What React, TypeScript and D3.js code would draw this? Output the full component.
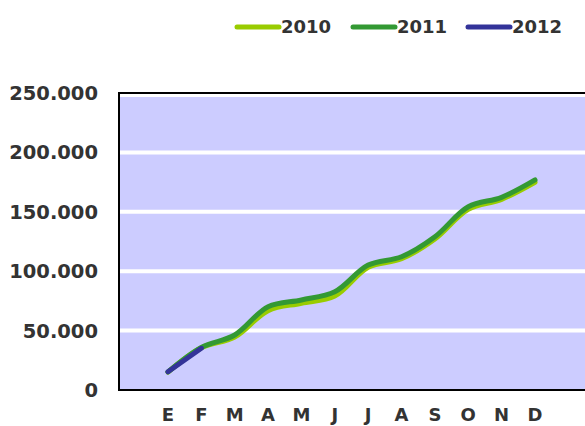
import React, { useEffect, useRef } from 'react';
import * as d3 from 'd3';

const months = ['E', 'F', 'M', 'A', 'M', 'J', 'J', 'A', 'S', 'O', 'N', 'D'];
const sales2010 = [15000, 35500, 44500, 66800, 73000, 79100, 103300, 110500, 127100, 152100, 160500, 174800];
const sales2011 = [15200, 35800, 46300, 70100, 75800, 82700, 105200, 112200, 129000, 154300, 162200, 176800];
const sales2012 = [15400, 35100];
const yTicks = [0, 50000, 100000, 150000, 200000, 250000];
const seriesNames = ['2010', '2011', '2012'];

const colors = ['#99cc00', '#339933', '#333399'];
const font = '"DejaVu Sans", sans-serif';

export default function App() {
    const ref = useRef<SVGSVGElement>(null);

    useEffect(() => {
        const svg = d3.select(ref.current);
        svg.selectAll('*').remove();

        const width = 585;
        const left = 119, top = 93, bottom = 390;

        const x = d3.scalePoint<number>().domain(d3.range(months.length)).range([168, 535]);
        const y = d3.scaleLinear().domain([0, 250000]).range([bottom, top]);

        const fmt = d3.formatLocale({ decimal: ',', thousands: '.', grouping: [3], currency: ['', ''] }).format(',d');

        // plot background
        svg.append('rect')
            .attr('x', left).attr('y', top)
            .attr('width', width - left + 5).attr('height', bottom - top)
            .attr('fill', '#ccccff');

        // gridlines
        svg.append('g').selectAll('line')
            .data(yTicks.filter(d => d > 0))
            .enter().append('line')
            .attr('x1', left).attr('x2', width)
            .attr('y1', d => y(d) + (d === 250000 ? 2 : 0))
            .attr('y2', d => y(d) + (d === 250000 ? 2 : 0))
            .attr('stroke', '#ffffff').attr('stroke-width', 4);

        // borders
        svg.append('path')
            .attr('d', `M${width},${top}H${left}V${bottom}H${width}`)
            .attr('fill', 'none').attr('stroke', '#000').attr('stroke-width', 2);

        // y labels
        svg.append('g').selectAll('text')
            .data(yTicks)
            .enter().append('text')
            .attr('x', 98).attr('y', d => y(d))
            .attr('dy', '0.36em')
            .attr('text-anchor', 'end')
            .attr('font-family', font).attr('font-weight', 'bold').attr('font-size', 19.5)
            .attr('fill', '#333333')
            .text(d => fmt(d));

        // x labels
        svg.append('g').selectAll('text')
            .data(months)
            .enter().append('text')
            .attr('x', (d, i) => x(i)!).attr('y', 415)
            .attr('dy', '0.36em')
            .attr('text-anchor', 'middle')
            .attr('font-family', font).attr('font-weight', 'bold').attr('font-size', 18)
            .attr('fill', '#333333')
            .text(d => d);

        const line = d3.line<number>()
            .x((d, i) => x(i)!)
            .y(d => y(d))
            .curve(d3.curveCatmullRom);

        [sales2010, sales2011, sales2012].forEach((s, i) => {
            svg.append('path')
                .attr('d', line(s))
                .attr('fill', 'none')
                .attr('stroke', colors[i])
                .attr('stroke-width', 5)
                .attr('stroke-linecap', 'round')
                .attr('stroke-linejoin', 'round');
        });

        // legend
        const legendX = [237, 353, 468];
        const lg = svg.append('g').selectAll('g')
            .data(seriesNames)
            .enter().append('g')
            .attr('transform', (d, i) => `translate(${legendX[i]},27)`);
        lg.append('line')
            .attr('x1', 0).attr('x2', 42)
            .attr('stroke', (d, i) => colors[i])
            .attr('stroke-width', 5)
            .attr('stroke-linecap', 'round');
        lg.append('text')
            .attr('x', 44).attr('dy', '0.36em')
            .attr('font-family', font).attr('font-weight', 'bold').attr('font-size', 18)
            .attr('fill', '#333333')
            .text(d => d);
    }, []);

    return (
        <svg ref={ref} width={585} height={426}
            style={{ position: 'absolute', left: 0, top: 0, display: 'block', background: '#fff' }} />
    );
}
